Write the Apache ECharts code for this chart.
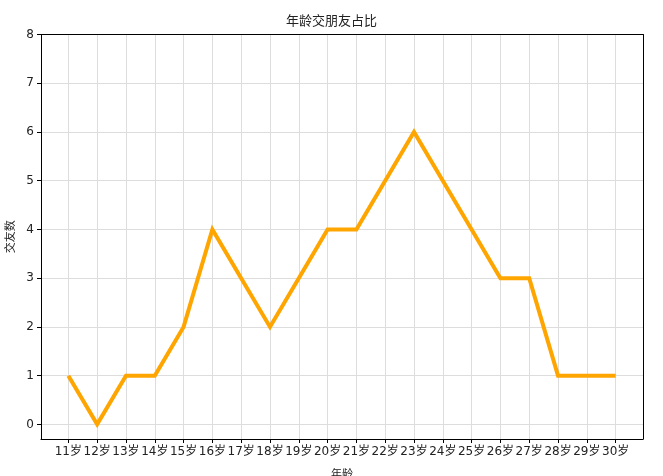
<!DOCTYPE html>
<html lang="zh">
<head>
    <meta charset="UTF-8">
    <title>年龄交朋友占比</title>
    <script src="https://cdn.jsdelivr.net/npm/echarts@6/dist/echarts.min.js"></script>
</head>
<style>
    html, body { margin: 0; padding: 0; background: #fff; }
    #chart { width: 663px; height: 476px; }
</style>
<body>
<div id="chart"></div>
<script>
    var ages = ['11岁', '12岁', '13岁', '14岁', '15岁', '16岁', '17岁', '18岁', '19岁', '20岁',
        '21岁', '22岁', '23岁', '24岁', '25岁', '26岁', '27岁', '28岁', '29岁', '30岁'];
    var friends = [1, 0, 1, 1, 2, 4, 3, 2, 3, 4, 4, 5, 6, 5, 4, 3, 3, 1, 1, 1];
    var yTicks = [0, 1, 2, 3, 4, 5, 6, 7, 8];

    var xIdx = ages.map(function (a, i) { return i; });
    var points = friends.map(function (v, i) { return [i, v]; });

    var cjk = '"Noto Sans CJK SC", "DejaVu Sans", sans-serif';
    var num = '"DejaVu Sans", "Noto Sans CJK SC", sans-serif';

    // top and right spines, no labels
    var spine = {
        type: 'value',
        axisLine: { show: true, onZero: false, lineStyle: { color: '#000', width: 1 } },
        axisTick: { show: false },
        axisLabel: { show: false },
        splitLine: { show: false }
    };

    var option = {
        animation: false,
        title: {
            text: '年龄交朋友占比',
            left: 'center',
            top: 9,
            textStyle: { fontFamily: cjk, fontSize: 13, fontWeight: 'normal', color: '#222' }
        },
        grid: {
            left: 41, right: 20, top: 34.5, bottom: 37,
            outerBoundsMode: 'none',
            containLabel: false
        },
        xAxis: [{
            type: 'value',
            min: -0.95,
            max: 19.95,
            name: '年龄',
            nameLocation: 'middle',
            nameGap: 29,
            nameTextStyle: { fontFamily: cjk, fontSize: 11, color: '#222' },
            axisLine: { show: true, onZero: false, lineStyle: { color: '#000', width: 1 } },
            axisTick: { show: true, customValues: xIdx, length: 4, inside: false, lineStyle: { color: '#000' } },
            axisLabel: {
                customValues: xIdx,
                formatter: function (v) { return ages[v]; },
                fontFamily: num, fontSize: 12, color: '#222', margin: 7
            },
            splitLine: { show: true, lineStyle: { color: '#dddddd', width: 1 } }
        }, Object.assign({ position: 'top', min: -0.95, max: 19.95 }, spine)],
        yAxis: [{
            type: 'value',
            min: -0.3,
            max: 8,
            name: '交友数',
            nameLocation: 'middle',
            nameGap: 20,
            nameTextStyle: { fontFamily: cjk, fontSize: 11, color: '#222' },
            axisLine: { show: true, onZero: false, lineStyle: { color: '#000', width: 1 } },
            axisTick: { show: true, customValues: yTicks, length: 4, inside: false, lineStyle: { color: '#000' } },
            axisLabel: {
                customValues: yTicks,
                fontFamily: num, fontSize: 12, color: '#222', margin: 7
            },
            splitLine: { show: true, lineStyle: { color: '#dddddd', width: 1 } }
        }, Object.assign({ position: 'right', min: -0.3, max: 8 }, spine)],
        series: [{
            type: 'line',
            data: points,
            showSymbol: false,
            lineStyle: { color: '#ffa500', width: 4, join: 'miter' },
            itemStyle: { color: '#ffa500' }
        }]
    };
    var chart = echarts.init(document.getElementById('chart'));
    chart.setOption(option);
</script>
</body>
</html>
